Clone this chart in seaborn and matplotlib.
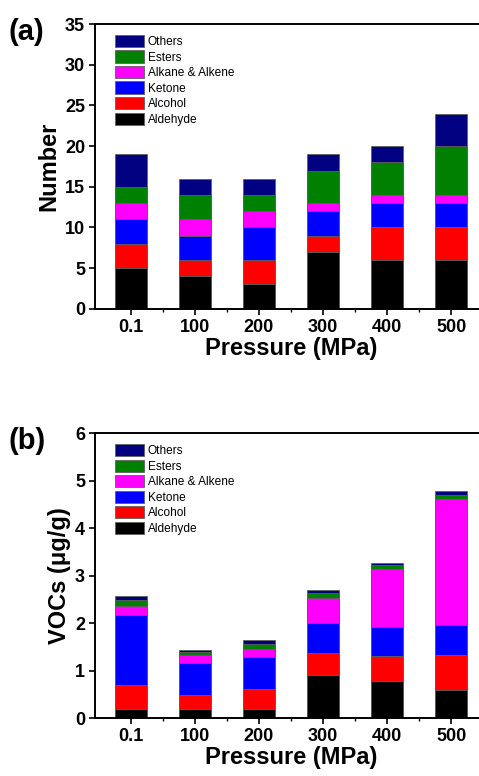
import numpy as np
import pandas as pd
import matplotlib
matplotlib.use("Agg")
import matplotlib.pyplot as plt
import seaborn as sns
from matplotlib.patches import Patch

sns.set_style("ticks")
plt.rcParams.update({
    'font.family': ['Liberation Sans', 'DejaVu Sans'],
    'text.color': 'black',
    'axes.labelcolor': 'black',
    'axes.edgecolor': 'black',
    'xtick.color': 'black',
    'ytick.color': 'black',
})

pressure = ['0.1', '100', '200', '300', '400', '500']
layers = ['Aldehyde', 'Alcohol', 'Ketone', 'Alkane & Alkene', 'Esters', 'Others']
colors = ['#000000', '#ff0000', '#0000ff', '#ff00ff', '#008000', '#000080']

# (a) number of compounds per class
num_aldehyde = [5, 4, 3, 7, 6, 6]
num_alcohol = [3, 2, 3, 2, 4, 4]
num_ketone = [3, 3, 4, 3, 3, 3]
num_alkane = [2, 2, 2, 1, 1, 1]
num_esters = [2, 3, 2, 4, 4, 6]
num_others = [4, 2, 2, 2, 2, 4]

# (b) VOC content (ug/g) per class
voc_aldehyde = [0.18, 0.19, 0.19, 0.90, 0.77, 0.59]
voc_alcohol = [0.51, 0.29, 0.42, 0.46, 0.53, 0.73]
voc_ketone = [1.49, 0.68, 0.68, 0.64, 0.61, 0.65]
voc_alkane = [0.19, 0.16, 0.17, 0.53, 1.22, 2.65]
voc_esters = [0.12, 0.07, 0.11, 0.10, 0.10, 0.07]
voc_others = [0.08, 0.05, 0.07, 0.07, 0.04, 0.09]

num_data = [num_aldehyde, num_alcohol, num_ketone, num_alkane, num_esters, num_others]
voc_data = [voc_aldehyde, voc_alcohol, voc_ketone, voc_alkane, voc_esters, voc_others]


def stacked(ax, data, ymax, ystep, ylabel, tag):
    cum = np.cumsum(np.array(data), axis=0)
    # draw tallest cumulative first, then cover with lower layers
    for i in range(len(layers) - 1, -1, -1):
        df = pd.DataFrame({'p': pressure, 'v': cum[i]})
        sns.barplot(data=df, x='p', y='v', order=pressure, color=colors[i],
                    saturation=1, width=0.5, errorbar=None, ax=ax,
                    edgecolor='#606060', linewidth=0.6)
    ax.set_xlim(-0.5625, 5.5625)
    ax.set_ylim(0, ymax)
    ax.set_yticks(np.arange(0, ymax + 0.001, ystep))
    ax.set_xticks(np.arange(0.5, 5, 1), minor=True)
    ax.tick_params(axis='both', which='major', direction='out', length=4,
                   width=1.2, labelsize=13, pad=3)
    ax.tick_params(axis='x', which='minor', direction='out', length=2.5, width=1.0)
    for lab in ax.get_xticklabels() + ax.get_yticklabels():
        lab.set_fontweight('bold')
    for s in ax.spines.values():
        s.set_linewidth(1.4)
    ax.set_xlabel('Pressure (MPa)', fontsize=17, fontweight='bold', labelpad=1)
    ax.set_ylabel(ylabel, fontsize=17, fontweight='bold', labelpad=3)
    handles = [Patch(facecolor=colors[i], edgecolor='#606060', linewidth=0.6, label=layers[i])
               for i in range(len(layers) - 1, -1, -1)]
    ax.legend(handles=handles, loc='upper left', frameon=False, fontsize=8.6,
              handlelength=2.4, handleheight=1.2, handletextpad=0.3,
              labelspacing=0.2, borderaxespad=0.5, bbox_to_anchor=(0.025, 1.0))
    ax.figure.text(0.018, ax.get_position().y1 + 0.008, tag, fontsize=21,
                   fontweight='bold', va='top', ha='left')


fig = plt.figure(figsize=(4.79, 7.76), dpi=100)
ax1 = fig.add_axes([0.198, 0.602, 0.819, 0.367])
ax2 = fig.add_axes([0.198, 0.0747, 0.819, 0.367])

stacked(ax1, num_data, 35, 5, 'Number', '(a)')
stacked(ax2, voc_data, 6, 1, 'VOCs (\u03bcg/g)', '(b)')

fig.savefig('out.png', dpi=100)
